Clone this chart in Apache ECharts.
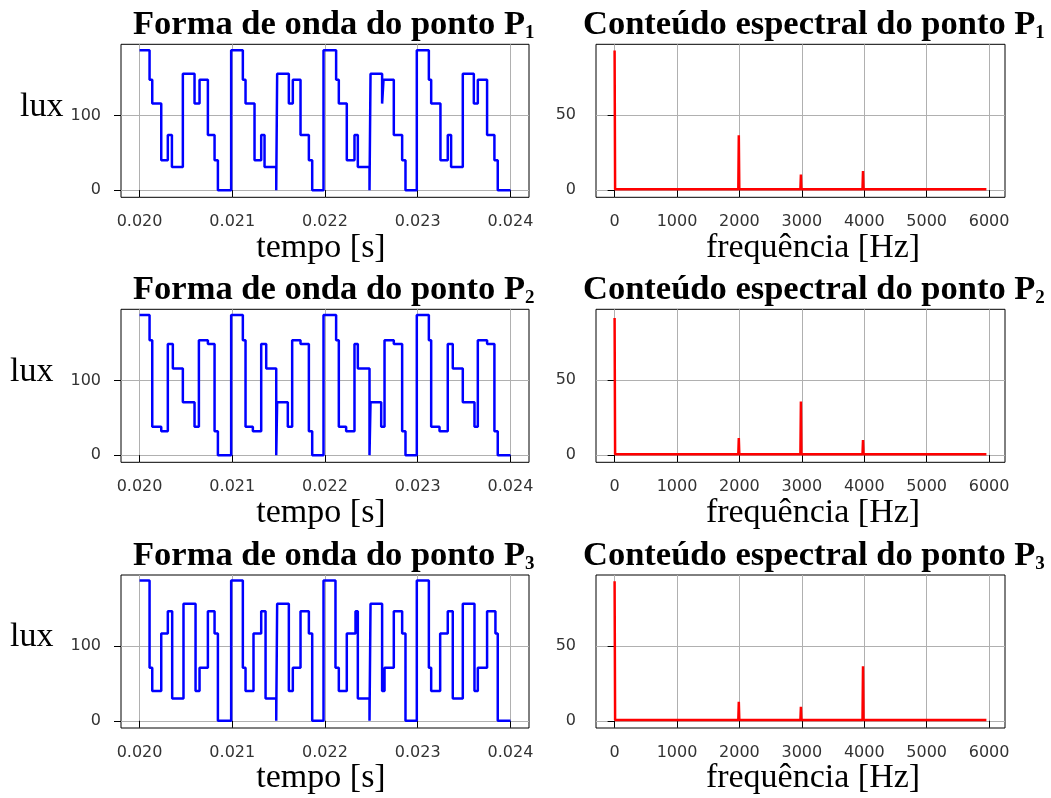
<!DOCTYPE html>
<html>
<head>
<meta charset="utf-8">
<script src="https://cdn.jsdelivr.net/npm/echarts@6.0.0/dist/echarts.min.js"></script>
<style>
  html, body { margin: 0; padding: 0; background: #ffffff; }
  #chart { width: 1051px; height: 798px; }
</style>
</head>
<body>
<div id="chart"></div>
<script>
// Illuminance waveforms (lux) at the three points, sampled as steps in time [s]
const timeP1 = [0.020000, 0.020108, 0.020137, 0.020234, 0.020305, 0.020349, 0.020467, 0.020593, 0.020647, 0.020737, 0.020809, 0.020845, 0.020988,
                0.021114, 0.021143, 0.021240, 0.021312, 0.021348, 0.021474, 0.021484, 0.021610, 0.021653, 0.021736, 0.021826, 0.021862, 0.021984,
                0.022120, 0.022149, 0.022235, 0.022318, 0.022354, 0.022480, 0.022491, 0.022616, 0.022631, 0.022742, 0.022832, 0.022868, 0.022990,
                0.023120, 0.023145, 0.023245, 0.023324, 0.023360, 0.023486, 0.023605, 0.023648, 0.023748, 0.023827, 0.023863, 0.024000];
const luxP1  = [187.5, 148, 116, 40, 74, 31, 156, 116, 148, 74, 40, 0, 187.5,
                148, 116, 40, 74, 31, 0, 156, 116, 148, 74, 40, 0, 187.5,
                148, 116, 40, 74, 31, 0, 156, 116, 148, 74, 40, 0, 187.5,
                148, 116, 40, 74, 31, 156, 116, 148, 74, 40, 0, 0];

const timeP2 = [0.020000, 0.020108, 0.020137, 0.020234, 0.020305, 0.020359, 0.020467, 0.020593, 0.020640, 0.020737, 0.020809, 0.020845, 0.020988,
                0.021114, 0.021143, 0.021222, 0.021312, 0.021366, 0.021474, 0.021484, 0.021599, 0.021646, 0.021736, 0.021826, 0.021862, 0.021984,
                0.022120, 0.022149, 0.022228, 0.022318, 0.022354, 0.022480, 0.022491, 0.022606, 0.022642, 0.022742, 0.022832, 0.022868, 0.022990,
                0.023120, 0.023145, 0.023235, 0.023324, 0.023378, 0.023486, 0.023612, 0.023648, 0.023748, 0.023827, 0.023863, 0.024000];
const luxP2  = [188, 154, 38, 32, 149, 116, 71, 38, 154, 149, 32, 0, 188,
                154, 38, 32, 149, 116, 0, 71, 38, 154, 149, 32, 0, 188,
                154, 38, 32, 149, 116, 0, 71, 38, 154, 149, 32, 0, 188,
                154, 38, 32, 149, 116, 71, 38, 154, 149, 32, 0, 0];

const timeP3 = [0.020000, 0.020108, 0.020137, 0.020234, 0.020305, 0.020352, 0.020474, 0.020604, 0.020647, 0.020737, 0.020809, 0.020845, 0.020988,
                0.021114, 0.021143, 0.021229, 0.021312, 0.021359, 0.021474, 0.021484, 0.021610, 0.021653, 0.021736, 0.021826, 0.021862, 0.021984,
                0.022113, 0.022149, 0.022235, 0.022329, 0.022354, 0.022480, 0.022491, 0.022616, 0.022642, 0.022742, 0.022832, 0.022868, 0.022990,
                0.023120, 0.023145, 0.023242, 0.023324, 0.023378, 0.023486, 0.023612, 0.023648, 0.023748, 0.023838, 0.023863, 0.024000];
const luxP3  = [188, 71, 40, 117, 147, 30, 157, 40, 71, 147, 117, 0, 188,
                71, 40, 117, 147, 30, 0, 157, 40, 71, 147, 117, 0, 188,
                71, 40, 117, 147, 30, 0, 157, 40, 71, 147, 117, 0, 188,
                71, 40, 117, 147, 30, 157, 40, 71, 147, 117, 0, 0];

// Spectral magnitude versus frequency [Hz]
const specFreq = [0, 8, 1982, 1990, 1998, 2977, 2985, 2993, 3972, 3980, 3988, 5957];
const specP1   = [93.3, 0.5, 0.5, 36.7, 0.5, 0.5, 10.4, 0.5, 0.5, 12.7, 0.5, 0.5];
const specP2   = [91.7, 0.5, 0.5, 11.4, 0.5, 0.5, 35.8, 0.5, 0.5, 10.0, 0.5, 0.5];
const specP3   = [93.3, 0.5, 0.5, 12.7, 0.5, 0.5, 9.3, 0.5, 0.5, 36.4, 0.5, 0.5];

// Tick values
const timeTicks = [0.020, 0.021, 0.022, 0.023, 0.024];
const luxTicks = [0, 100];
const freqTicks = [0, 1000, 2000, 3000, 4000, 5000, 6000];
const magTicks = [0, 50];

const pointNames = ['1', '2', '3'];
const waveTimes = [timeP1, timeP2, timeP3];
const waveLux = [luxP1, luxP2, luxP3];
const spectra = [specP1, specP2, specP3];

const rowTop = [44.3, 309.3, 575];
const rowShift = [0, 265.3, 530.6];
const plotH = 153;

const tickFont = { fontFamily: 'DejaVu Sans', fontSize: 16, color: '#333333' };
const serif = '"Liberation Serif", "DejaVu Serif", serif';

function zip(xs, ys) { return xs.map((x, i) => [x, ys[i]]); }

function valueAxis(gridIndex, min, max, ticks, fmt, isY) {
  return {
    type: 'value', gridIndex, min, max,
    axisLine: { show: false },
    axisTick: { show: true, customValues: ticks, length: 7, lineStyle: { color: '#000', width: 1 } },
    axisLabel: Object.assign({ customValues: ticks, margin: isY ? 20 : 17, formatter: fmt }, tickFont),
    splitLine: { show: true, lineStyle: { color: '#b0b0b0', width: 1 } }
  };
}

const grids = [], xAxes = [], yAxes = [], series = [], graphics = [];

for (let i = 0; i < 3; i++) {
  // waveform panel
  grids.push({ left: 121, top: rowTop[i], width: 408, height: plotH, show: true, borderColor: '#000', borderWidth: 1, backgroundColor: 'transparent' });
  const gw = grids.length - 1;
  xAxes.push(valueAxis(gw, 0.0198, 0.0242, timeTicks, v => v.toFixed(3), false));
  yAxes.push(valueAxis(gw, -9.6, 195.5, luxTicks, v => String(v), true));
  series.push({
    type: 'line', xAxisIndex: gw, yAxisIndex: gw, step: 'end', showSymbol: false, symbol: 'none',
    data: zip(waveTimes[i], waveLux[i]),
    lineStyle: { color: '#0000ff', width: 2.5 }, clip: true, z: 3
  });

  // spectrum panel
  grids.push({ left: 596, top: rowTop[i], width: 409, height: plotH, show: true, borderColor: '#000', borderWidth: 1, backgroundColor: 'transparent' });
  const gs = grids.length - 1;
  xAxes.push(valueAxis(gs, -298, 6255, freqTicks, v => String(v), false));
  yAxes.push(valueAxis(gs, -4.8, 97.5, magTicks, v => String(v), true));
  series.push({
    type: 'line', xAxisIndex: gs, yAxisIndex: gs, showSymbol: false, symbol: 'none',
    data: zip(specFreq, spectra[i]),
    lineStyle: { color: '#ff0000', width: 2.5 }, clip: true, z: 3
  });

  const dy = rowShift[i];
  const titleRich = {
    m: { fontFamily: serif, fontWeight: 'bold', fontSize: 34.5, lineHeight: 34.5, verticalAlign: 'bottom', fill: '#000' },
    s: { fontFamily: serif, fontWeight: 'bold', fontSize: 19, lineHeight: 21, verticalAlign: 'bottom', fill: '#000' }
  };
  graphics.push({
    type: 'text', x: 133, y: 42.7 + dy, z: 10,
    style: { text: '{m|Forma de onda do ponto P}{s|' + pointNames[i] + '}', rich: titleRich, align: 'left', verticalAlign: 'bottom' }
  });
  graphics.push({
    type: 'text', x: 583, y: 42.7 + dy, z: 10,
    style: { text: '{m|Conteúdo espectral do ponto P}{s|' + pointNames[i] + '}', rich: titleRich, align: 'left', verticalAlign: 'bottom' }
  });
  graphics.push({
    type: 'text', x: i === 0 ? 20 : 10, y: 106.6 + dy, z: 10,
    style: { text: 'lux', fontFamily: serif, fontSize: 34, fill: '#000', align: 'left', verticalAlign: 'middle' }
  });
  graphics.push({
    type: 'text', x: 321, y: 247.6 + dy, z: 10,
    style: { text: 'tempo [s]', fontFamily: serif, fontSize: 34, fill: '#000', align: 'center', verticalAlign: 'middle' }
  });
  graphics.push({
    type: 'text', x: 813, y: 247.6 + dy, z: 10,
    style: { text: 'frequência [Hz]', fontFamily: serif, fontSize: 34, fill: '#000', align: 'center', verticalAlign: 'middle' }
  });
}

const chart = echarts.init(document.getElementById('chart'), null, { renderer: 'canvas' });
chart.setOption({
  animation: false,
  backgroundColor: '#ffffff',
  grid: grids,
  xAxis: xAxes,
  yAxis: yAxes,
  series: series,
  graphic: graphics
});
</script>
</body>
</html>
